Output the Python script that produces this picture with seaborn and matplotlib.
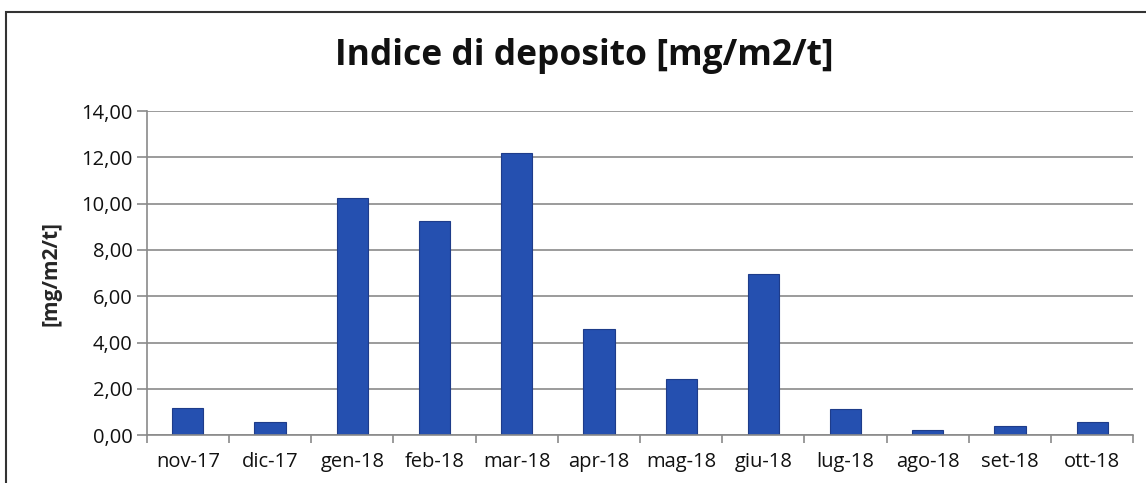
import numpy as np
import pandas as pd
import matplotlib
matplotlib.use('Agg')
import matplotlib.pyplot as plt
import seaborn as sns
from matplotlib.patches import Rectangle
from matplotlib.ticker import MultipleLocator, FixedLocator, FuncFormatter

# Data
mesi = ['nov-17', 'dic-17', 'gen-18', 'feb-18', 'mar-18', 'apr-18',
        'mag-18', 'giu-18', 'lug-18', 'ago-18', 'set-18', 'ott-18']
indice = [1.19, 0.56, 10.23, 9.25, 12.18, 4.57, 2.44, 6.97, 1.12, 0.22, 0.38, 0.58]

df = pd.DataFrame({'mese': mesi, 'indice': indice})

sns.set_theme(style='white')
plt.rcParams['font.family'] = ['Open Sans', 'DejaVu Sans']

fig = plt.figure(figsize=(11.46, 4.83), dpi=100)
ax = fig.add_axes([0.128, 0.099, 0.861, 0.671])

sns.barplot(data=df, x='mese', y='indice', color='#2550B0', width=0.38,
            saturation=1, edgecolor='#1E3C8A', linewidth=0.8, ax=ax)

ax.set_ylim(0, 14)
ax.set_xlim(-0.5, len(mesi) - 0.5)
ax.yaxis.set_major_locator(MultipleLocator(2))
ax.yaxis.set_major_formatter(FuncFormatter(lambda v, p: f'{v:.2f}'.replace('.', ',')))
ax.grid(axis='y', color='#8a8a8a', linewidth=1.2)
ax.set_axisbelow(True)

for s in ['top', 'right']:
    ax.spines[s].set_visible(False)
ax.spines['left'].set_color('#8a8a8a')
ax.spines['bottom'].set_color('#8a8a8a')
ax.spines['left'].set_linewidth(1.2)
ax.spines['bottom'].set_linewidth(1.2)

# ticks at category boundaries
ax.xaxis.set_minor_locator(FixedLocator(np.arange(-0.5, len(mesi), 1)))
ax.tick_params(axis='x', which='major', length=0, pad=12, labelsize=14.5, labelcolor='#111111')
ax.tick_params(axis='x', which='minor', bottom=True, length=6, width=1.2, color='#8a8a8a', direction='out')
ax.tick_params(axis='y', which='major', left=True, length=7, width=1.2, color='#8a8a8a',
               labelsize=14.5, labelcolor='#111111', pad=3)

ax.set_xlabel('')
ax.set_ylabel('[mg/m2/t]', fontsize=15, fontweight='bold', labelpad=14)

fig.text(0.51, 0.885, 'Indice di deposito [mg/m2/t]', ha='center', va='center',
         fontsize=25.5, fontweight='bold', color='#111111')

# outer chart frame
fig.patches.append(Rectangle((0.005, -0.05), 1.2, 1.025, transform=fig.transFigure,
                             fill=False, edgecolor='#333333', linewidth=1.5))

fig.savefig('out.png', dpi=100)
